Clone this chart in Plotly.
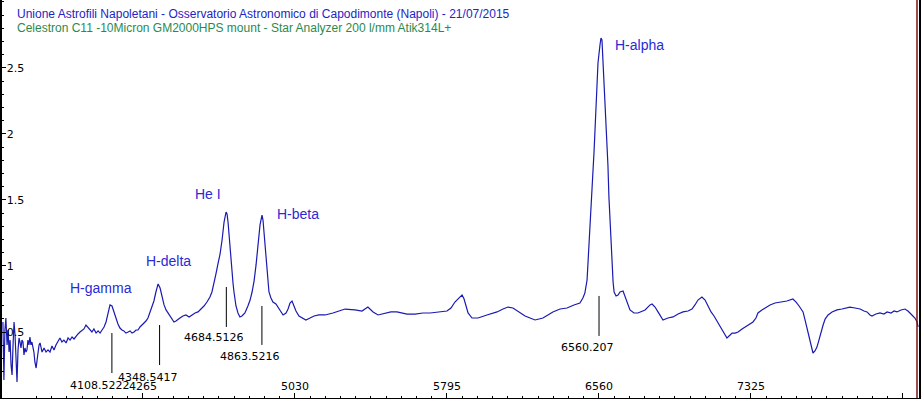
import plotly.graph_objects as go

# Spectrum (wavelength in Angstrom, relative flux)
wavelength = [
    3560, 3565, 3570, 3575, 3581, 3586, 3591, 3596, 3601, 3606, 3611, 3616, 3621, 3626, 3631,
    3636, 3641, 3646, 3651, 3656, 3661, 3666, 3671, 3676, 3681, 3686, 3691, 3696, 3701, 3706,
    3711, 3716, 3721, 3727, 3732, 3737, 3742, 3747, 3752, 3757, 3767, 3777, 3787, 3797, 3807,
    3817, 3827, 3837, 3847, 3857, 3867, 3878, 3888, 3898, 3908, 3918, 3928, 3938, 3948, 3958,
    3968, 3978, 3988, 3998, 4008, 4018, 4029, 4039, 4049, 4059, 4069, 4079, 4089, 4099, 4109,
    4119, 4129, 4139, 4149, 4159, 4169, 4179, 4190, 4200, 4210, 4220, 4230, 4240, 4250, 4260,
    4270, 4280, 4290, 4300, 4310, 4320, 4330, 4341, 4351, 4361, 4371, 4381, 4391, 4401, 4411,
    4421, 4431, 4441, 4451, 4466, 4481, 4497, 4512, 4527, 4542, 4557, 4572, 4587, 4602, 4612,
    4622, 4632, 4642, 4653, 4663, 4673, 4683, 4688, 4693, 4698, 4703, 4708, 4713, 4718, 4723,
    4728, 4733, 4743, 4753, 4763, 4778, 4793, 4804, 4814, 4824, 4834, 4844, 4854, 4864, 4869,
    4874, 4879, 4884, 4889, 4894, 4899, 4909, 4919, 4934, 4944, 4955, 4970, 4985, 4995, 5005,
    5015, 5025, 5035, 5050, 5065, 5085, 5106, 5126, 5151, 5181, 5221, 5257, 5282, 5332, 5367,
    5397, 5423, 5448, 5483, 5513, 5543, 5594, 5634, 5674, 5710, 5745, 5795, 5815, 5835, 5856,
    5871, 5881, 5891, 5901, 5921, 5951, 5996, 6047, 6077, 6102, 6127, 6162, 6188, 6213, 6238,
    6278, 6303, 6328, 6364, 6399, 6434, 6464, 6479, 6489, 6500, 6505, 6515, 6525, 6535, 6540,
    6550, 6555, 6565, 6570, 6575, 6580, 6590, 6600, 6605, 6610, 6620, 6626, 6631, 6636, 6646,
    6656, 6666, 6681, 6691, 6701, 6716, 6736, 6756, 6792, 6817, 6827, 6842, 6857, 6882, 6907,
    6933, 6958, 6983, 7008, 7028, 7043, 7058, 7078, 7094, 7109, 7124, 7139, 7154, 7169, 7179,
    7194, 7204, 7220, 7230, 7245, 7260, 7280, 7295, 7315, 7335, 7350, 7360, 7380, 7395, 7421,
    7446, 7476, 7506, 7536, 7552, 7567, 7587, 7597, 7607, 7617, 7627, 7637, 7647, 7657, 7667,
    7677, 7688, 7698, 7713, 7733, 7758, 7783, 7803, 7823, 7849, 7874, 7894, 7909, 7924, 7934,
    7954, 7974, 7994, 8010, 8030, 8045, 8060, 8080, 8100, 8115, 8135, 8150, 8161, 8166,
]
flux = [
    0.576, 0.136, 0.515, 0.606, 0.402, 0.515, 0.348, 0.439, 0.250, 0.174, 0.402, 0.576, 0.477, 0.227, 0.121,
    0.364, 0.455, 0.424, 0.379, 0.439, 0.424, 0.326, 0.379, 0.348, 0.364, 0.439, 0.402, 0.462, 0.402, 0.424,
    0.394, 0.348, 0.273, 0.227, 0.288, 0.379, 0.402, 0.417, 0.364, 0.348, 0.379, 0.348, 0.364, 0.348, 0.394,
    0.364, 0.402, 0.424, 0.455, 0.424, 0.439, 0.417, 0.455, 0.439, 0.462, 0.447, 0.470, 0.485, 0.500, 0.515,
    0.523, 0.553, 0.538, 0.515, 0.500, 0.523, 0.492, 0.508, 0.492, 0.515, 0.538, 0.576, 0.652, 0.705, 0.697,
    0.652, 0.598, 0.561, 0.530, 0.515, 0.508, 0.492, 0.500, 0.508, 0.492, 0.500, 0.515, 0.515, 0.538, 0.553,
    0.561, 0.583, 0.606, 0.644, 0.682, 0.735, 0.803, 0.864, 0.833, 0.758, 0.705, 0.667, 0.644, 0.614, 0.591,
    0.576, 0.583, 0.598, 0.606, 0.621, 0.629, 0.614, 0.629, 0.644, 0.652, 0.674, 0.697, 0.727, 0.765, 0.803,
    0.864, 0.939, 1.015, 1.091, 1.197, 1.333, 1.409, 1.394, 1.333, 1.235, 1.121, 1.045, 0.955, 0.871, 0.803,
    0.742, 0.697, 0.644, 0.614, 0.621, 0.644, 0.697, 0.742, 0.803, 0.886, 1.008, 1.159, 1.311, 1.386, 1.348,
    1.258, 1.159, 1.061, 0.970, 0.879, 0.803, 0.758, 0.727, 0.712, 0.689, 0.659, 0.629, 0.644, 0.674, 0.720,
    0.735, 0.697, 0.659, 0.621, 0.606, 0.591, 0.606, 0.621, 0.629, 0.629, 0.644, 0.659, 0.674, 0.667, 0.659,
    0.689, 0.652, 0.629, 0.644, 0.652, 0.652, 0.636, 0.636, 0.644, 0.644, 0.652, 0.659, 0.682, 0.727, 0.758,
    0.780, 0.750, 0.697, 0.644, 0.606, 0.606, 0.629, 0.652, 0.674, 0.689, 0.682, 0.644, 0.621, 0.606, 0.591,
    0.606, 0.629, 0.652, 0.674, 0.682, 0.705, 0.720, 0.758, 0.795, 0.894, 1.023, 1.273, 1.523, 1.864, 2.030,
    2.371, 2.538, 2.674, 2.727, 2.712, 2.561, 2.295, 2.030, 1.765, 1.523, 1.197, 1.023, 0.879, 0.803, 0.773,
    0.780, 0.803, 0.811, 0.773, 0.727, 0.667, 0.644, 0.644, 0.667, 0.705, 0.712, 0.689, 0.652, 0.591, 0.606,
    0.614, 0.636, 0.652, 0.659, 0.674, 0.705, 0.742, 0.765, 0.742, 0.697, 0.652, 0.621, 0.583, 0.545, 0.515,
    0.477, 0.455, 0.477, 0.492, 0.492, 0.500, 0.523, 0.538, 0.553, 0.576, 0.606, 0.644, 0.667, 0.682, 0.705,
    0.720, 0.727, 0.735, 0.750, 0.727, 0.697, 0.652, 0.591, 0.530, 0.455, 0.386, 0.341, 0.356, 0.386, 0.439,
    0.500, 0.553, 0.598, 0.629, 0.652, 0.667, 0.674, 0.682, 0.689, 0.682, 0.674, 0.659, 0.652, 0.629, 0.621,
    0.636, 0.644, 0.636, 0.652, 0.644, 0.659, 0.652, 0.667, 0.674, 0.659, 0.629, 0.606, 0.576, 0.538,
]

# Measured line markers
marker_wl = [4108.5222, 4348.5417, 4684.5126, 4863.5216, 6560.207]
marker_text = ["4108.5222", "4348.5417", "4684.5126", "4863.5216", "6560.207"]
marker_top = [0.492, 0.553, 0.841, 0.697, 0.773]
marker_bot = [0.189, 0.250, 0.538, 0.402, 0.470]
marker_label_y = [0.091, 0.159, 0.455, 0.311, 0.386]

# Line identifications
line_names = ["H-gamma", "H-delta", "He I", "H-beta", "H-alpha"]
line_name_x = [4054, 4391, 4592, 5045, 6766]
line_name_y = [0.833, 1.038, 1.545, 1.394, 2.674]

x_ticks = [4265, 5030, 5795, 6560, 7325, 8090]
x_tick_text = ["4265", "5030", "5795", "6560", "7325", ""]
y_ticks = [0.5, 1, 1.5, 2, 2.5]
y_tick_text = ["0.5", "1", "1.5", "2", "2.5"]

title1 = "Unione Astrofili Napoletani - Osservatorio Astronomico di Capodimonte (Napoli) - 21/07/2015"
title2 = "Celestron C11 -10Micron GM2000HPS mount - Star Analyzer 200 l/mm Atik314L+"

fig = go.Figure()
fig.add_trace(go.Scatter(x=wavelength, y=flux, mode="lines",
                         line=dict(color="#1a1ab0", width=1.2), hoverinfo="skip"))

for wl, top, bot in zip(marker_wl, marker_top, marker_bot):
    fig.add_shape(type="line", xref="x", yref="y", x0=wl, x1=wl, y0=bot, y1=top,
                  line=dict(color="black", width=1))

tick_font = dict(family="DejaVu Sans", size=11, color="black")
for wl, txt, ly in zip(marker_wl, marker_text, marker_label_y):
    fig.add_annotation(x=wl, y=ly, xref="x", yref="y", text=txt, showarrow=False,
                       xanchor="center", yanchor="middle", xshift=-12, font=tick_font)

for name, nx, ny in zip(line_names, line_name_x, line_name_y):
    fig.add_annotation(x=nx, y=ny, xref="x", yref="y", text=name, showarrow=False,
                       xanchor="center", yanchor="middle",
                       font=dict(family="Liberation Sans", size=14, color="#2a2ad6"))

fig.add_annotation(x=15, y=14, xref="paper", yref="paper", text=title1, showarrow=False,
                   xanchor="left", yanchor="middle",
                   font=dict(family="Liberation Sans", size=12, color="#2424c4"))
fig.add_annotation(x=15, y=28, xref="paper", yref="paper", text=title2, showarrow=False,
                   xanchor="left", yanchor="middle",
                   font=dict(family="Liberation Sans", size=12, color="#2a8a4e"))

# fix paper coords for titles (pixel-based via domain): convert after layout
W, H = 921, 399
ML, MR, MT, MB = 2, 2, 0, 1
pw, ph = W - ML - MR, H - MT - MB
for ann in fig.layout.annotations[-2:]:
    ann.x = (ann.x - ML) / pw
    ann.y = 1 - (ann.y - MT) / ph

fig.add_shape(type="line", xref="paper", yref="paper", x0=(917 - ML) / pw, x1=(917 - ML) / pw,
              y0=0, y1=1, line=dict(color="#7a1010", width=1.5))

fig.update_layout(
    width=W, height=H,
    margin=dict(l=ML, r=MR, t=MT, b=MB),
    paper_bgcolor="black",
    plot_bgcolor="white",
    showlegend=False,
    xaxis=dict(range=[3555.4, 8170.6], tickvals=x_ticks, ticktext=x_tick_text,
               ticks="inside", ticklen=5, tickcolor="black", showgrid=False, zeroline=False,
               showline=True, linecolor="black", linewidth=1, mirror=False,
               ticklabelposition="inside", tickfont=tick_font,
               minor=dict(ticks="inside", ticklen=2, dtick=76.5, tick0=4265, tickcolor="black",
                          showgrid=False)),
    yaxis=dict(range=[0, 3.015], tickvals=y_ticks, ticktext=y_tick_text,
               ticks="inside", ticklen=4, tickcolor="black", showgrid=False, zeroline=False,
               showline=True, linecolor="black", linewidth=1,
               ticklabelposition="inside", tickfont=tick_font,
               minor=dict(ticks="inside", ticklen=2, dtick=0.1, tick0=0, tickcolor="black",
                          showgrid=False)),
)

fig.write_html("out.html")
